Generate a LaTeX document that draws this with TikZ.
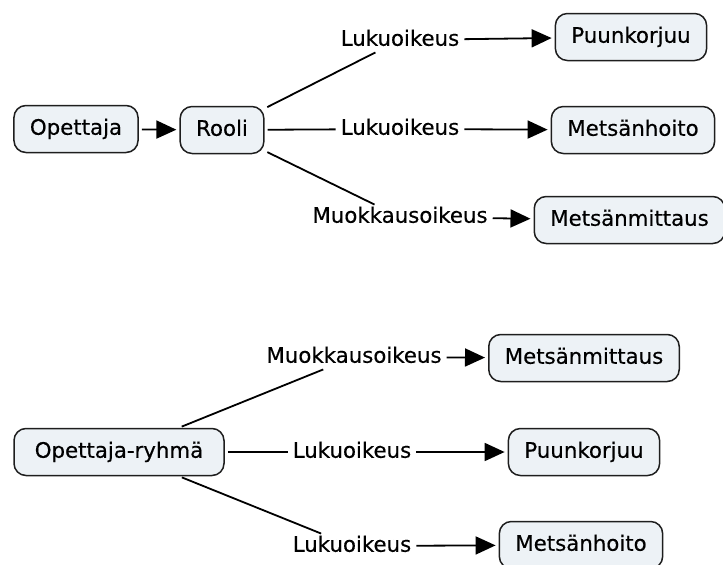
\documentclass[tikz,border=0pt]{standalone}
\usepackage{fontspec}
\setmainfont[FakeBold=0.4]{DejaVu Sans}
\usetikzlibrary{arrows.meta}
\definecolor{boxfill}{RGB}{237,242,246}
\definecolor{boxline}{RGB}{30,30,30}
\begin{document}
\begin{tikzpicture}[x=1pt,y=-1pt,
  font=\fontsize{21.3}{24}\selectfont,
  cbox/.style={draw=boxline,fill=boxfill,line width=1.5pt,rounded corners=12pt,
    inner xsep=16pt,minimum height=47pt,text height=16pt,text depth=4.5pt},
  lbl/.style={inner xsep=5pt,inner ysep=2pt,text height=16pt,text depth=4.5pt},
  conn/.style={line width=1.8pt,black},
  arr/.style={conn,-{Triangle[length=20pt,width=18pt]},shorten >=3pt}]
\useasboundingbox (0,0) rectangle (723,565);
% top diagram
\node[cbox] (op) at (76,129) {Opettaja};
\node[cbox] (rooli) at (222,130) {Rooli};
\node[lbl] (lab1) at (400,40) {Lukuoikeus};
\node[cbox] (p1) at (631,37) {Puunkorjuu};
\node[lbl] (lab2) at (400,129) {Lukuoikeus};
\node[cbox] (m1) at (633,130) {Metsänhoito};
\node[lbl] (lab3) at (400,217) {Muokkausoikeus};
\node[cbox] (mm1) at (629.5,220) {Metsänmittaus};
\draw[arr,shorten <=3pt] (op) -- (rooli);
\draw[conn,shorten <=3pt] (rooli) -- (lab1);
\draw[arr] (lab1) -- (p1);
\draw[conn,shorten <=3pt] (rooli) -- (lab2);
\draw[arr] (lab2) -- (m1);
\draw[conn,shorten <=3pt] (rooli) -- (lab3);
\draw[arr] (lab3) -- (mm1);
% bottom diagram
\node[cbox,minimum width=210pt] (og) at (119,452) {Opettaja-ryhmä};
\node[lbl] (lab4) at (354,357) {Muokkausoikeus};
\node[cbox] (mm2) at (584,358) {Metsänmittaus};
\node[lbl] (lab5) at (352,452) {Lukuoikeus};
\node[cbox] (p2) at (584,452) {Puunkorjuu};
\node[lbl] (lab6) at (352,546) {Lukuoikeus};
\node[cbox] (m2) at (581,545) {Metsänhoito};
\draw[conn,shorten <=3pt] (og) -- (lab4);
\draw[arr] (lab4) -- (mm2);
\draw[conn,shorten <=3pt] (og) -- (lab5);
\draw[arr] (lab5) -- (p2);
\draw[conn,shorten <=3pt] (og) -- (lab6);
\draw[arr] (lab6) -- (m2);
\end{tikzpicture}
\end{document}
